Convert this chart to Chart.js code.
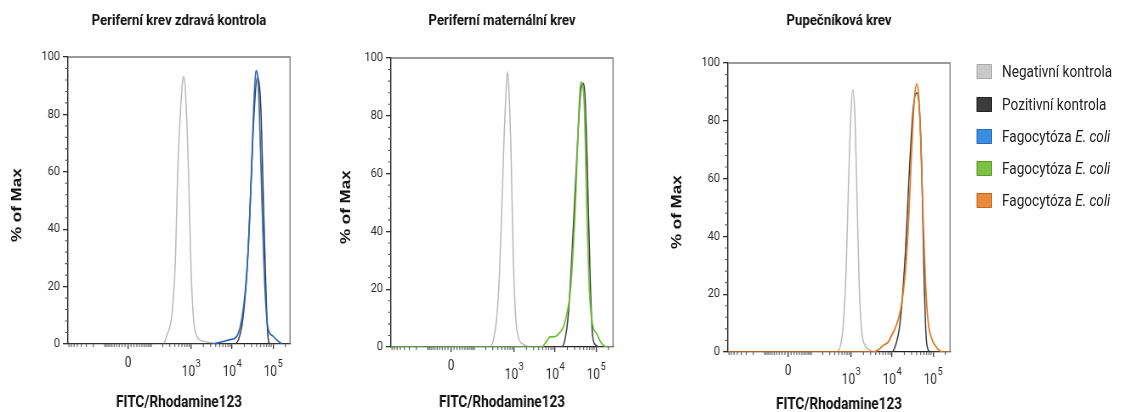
<!DOCTYPE html>
<html>
<head>
<meta charset="utf-8">
<script src="https://cdn.jsdelivr.net/npm/chart.js@4.4.1/dist/chart.umd.min.js"></script>
<style>
  html, body { margin: 0; padding: 0; background: #fff; overflow: hidden; }
  body { width: 1125px; height: 412px; position: relative; }
  .panel { position: absolute; top: 0; width: 376px; height: 420px; transform: scaleX(0.85); transform-origin: 0 0; }
  .legend { position: absolute; left: 975px; top: 0; width: 180px; height: 220px; transform: scaleX(0.85); transform-origin: 0 0;
            font-family: Roboto, sans-serif; font-size: 16px; color: #222; }
  .legend .item { position: absolute; left: 2.4px; height: 15px; display: flex; align-items: center; white-space: nowrap; }
  .legend .sw { width: 17.6px; height: 15px; box-sizing: border-box; border: 1px solid; margin-right: 11.8px; }
</style>
</head>
<body>
<div class="panel" id="p1"><canvas id="c1" width="376" height="420"></canvas></div>
<div class="panel" id="p2" style="left:323px"><canvas id="c2" width="376" height="420"></canvas></div>
<div class="panel" id="p3" style="left:660px"><canvas id="c3" width="376" height="420"></canvas></div>
<div class="legend" id="legend"></div>
<script>
// x = display channel (0-1024) of the biexponential FITC axis, y = % of Max

// Periferní krev zdravá kontrola
const negX1 = [443, 455, 478, 494, 507, 525, 532, 540, 555, 567, 578, 594, 623, 669, 692];
const negY1 = [0, 2.8, 9.6, 27, 62, 88.6, 93.2, 90, 62, 27, 9.6, 2.7, 1, 0.3, 0];
const posX1 = [0, 763, 786, 806, 824, 840, 855, 873, 889, 901, 912, 921, 932, 1024];
const posY1 = [0, 0, 1.5, 8.5, 23.6, 48, 75.8, 92.7, 82.8, 50, 21, 3.8, 0, 0];
const blueX = [670, 701, 747, 770, 786, 801, 817, 832, 847, 858, 867, 878, 890, 904, 917, 924, 946, 969, 986];
const blueY = [0, 0.6, 1.5, 2, 3.8, 8.5, 17.8, 34, 62, 85, 95.3, 89.8, 62, 27, 8.5, 5, 2.7, 1, 0];

// Periferní maternální krev
const negX2 = [460, 472, 488, 500, 511, 521, 531, 537, 544, 554, 564, 575, 587, 610, 641];
const negY2 = [0, 2.3, 10.4, 25, 48, 71.5, 88.8, 95.2, 88.8, 65.7, 31, 10.4, 3.5, 0.9, 0];
const posX2 = [0, 787, 803, 818, 838, 857, 875, 884, 895, 906, 918, 929, 941, 964, 1024];
const posY2 = [0, 0, 2.9, 11.5, 37, 65.7, 88.8, 91.3, 86.5, 60, 25, 4.6, 0.9, 0, 0];
const greenX = [0, 695, 715, 734, 746, 761, 780, 795, 811, 826, 838, 853, 864, 875, 883, 892, 903, 915, 929, 949, 967, 987, 1002, 1024];
const greenY = [0, 0, 1.7, 3.5, 3.5, 3.7, 5.2, 6.9, 11.5, 18.5, 31, 54, 77, 91.7, 91, 83, 48, 19.6, 8, 4.6, 1.7, 0.2, 0, 0];

// Pupečníková krev
const negX3 = [501, 517, 532, 544, 555, 566, 575, 585, 594, 606, 618, 632, 655, 678];
const negY3 = [0, 1.7, 9.8, 27, 56, 81, 90.8, 82, 56, 21, 6.3, 2.3, 0.6, 0];
const posX3 = [0, 755, 770, 793, 817, 836, 855, 871, 883, 894, 904, 913, 924, 935, 1024];
const posY3 = [0, 0, 1.7, 9.8, 33, 62, 85, 89.6, 83.6, 62, 27, 6.3, 0.6, 0, 0];
const orangeX = [0, 670, 693, 716, 740, 755, 770, 786, 801, 817, 832, 847, 859, 871, 880, 889, 901, 913, 924, 940, 955, 970, 990, 1024];
const orangeY = [0, 0, 0.8, 2.3, 3.5, 5.8, 8, 11.5, 16.7, 27, 44, 70, 87, 92.8, 88, 73, 44, 21, 9.8, 4.6, 2.3, 0.8, 0, 0];

// axes
const yTickValues = [0, 20, 40, 60, 80, 100];
const xTickValues = [0, 1e3, 1e4, 1e5];
const xTickBase = ['0', '10', '10', '10'];
const xTickExp = ['', '3', '4', '5'];

// legend
const legendNames = [['Negativní kontrola', ''], ['Pozitivní kontrola', ''], ['Fagocytóza ', 'E. coli'], ['Fagocytóza ', 'E. coli'], ['Fagocytóza ', 'E. coli']];
const legendFill = ['#c9c9c9', '#3b3b3b', '#3a8de0', '#7bc143', '#e8893c'];
const legendEdge = ['#a9a9a9', '#262626', '#2a6db5', '#5c9a2f', '#c2691f'];

// biexponential display transform, intensity -> channel
const biex = v => 276.8 + 189.1 * Math.asinh(v / 58.2) / Math.LN10;

const xMinorValues = [];
[10, 100, 1000, 10000, 100000].forEach(d => {
  for (let m = 1; m <= 9; m++) {
    if (!xTickValues.includes(m * d)) xMinorValues.push(m * d, -m * d);
  }
});
const yMinorValues = [];
for (let v = 4; v < 100; v += 4) if (v % 20) yMinorValues.push(v);

const flowAxes = {
  id: 'flowAxes',
  afterDraw(chart) {
    const { ctx, chartArea: a, scales: { x, y } } = chart;
    ctx.save();
    // top and right frame
    ctx.strokeStyle = '#7a7a7a';
    ctx.lineWidth = 1.3;
    ctx.beginPath();
    ctx.moveTo(a.left, a.top);
    ctx.lineTo(a.right, a.top);
    ctx.lineTo(a.right, a.bottom);
    ctx.stroke();
    // minor ticks
    ctx.strokeStyle = '#555';
    ctx.lineWidth = 1.1;
    ctx.beginPath();
    xMinorValues.forEach(v => {
      const px = x.getPixelForValue(biex(v));
      if (px < a.left || px > a.right) return;
      ctx.moveTo(px, a.bottom);
      ctx.lineTo(px, a.bottom + 3);
    });
    yMinorValues.forEach(v => {
      const py = y.getPixelForValue(v);
      ctx.moveTo(a.left - 3.5, py);
      ctx.lineTo(a.left, py);
    });
    ctx.stroke();
    // x tick labels, 10 with superscript decade
    ctx.fillStyle = '#2a2a2a';
    ctx.textBaseline = 'middle';
    xTickValues.forEach((v, i) => {
      const px = x.getPixelForValue(biex(v));
      ctx.font = '14px Roboto';
      if (!xTickExp[i]) {
        ctx.textAlign = 'center';
        ctx.fillText(xTickBase[i], px, a.bottom + 19);
        return;
      }
      const w1 = ctx.measureText(xTickBase[i]).width;
      ctx.font = '11px Roboto';
      const w2 = ctx.measureText(xTickExp[i]).width;
      const start = px - (w1 + w2) / 2;
      ctx.textAlign = 'left';
      ctx.fillText(xTickExp[i], start + w1 + 0.5, a.bottom + 20);
      ctx.font = '14px Roboto';
      ctx.fillText(xTickBase[i], start, a.bottom + 28);
    });
    ctx.restore();
  }
};

function makePanel(canvasId, cfg) {
  const datasets = cfg.series.map(s => ({
    data: s.xs.map((v, i) => ({ x: v, y: s.ys[i] })),
    borderColor: s.color,
    borderWidth: s.width,
    pointRadius: 0,
    cubicInterpolationMode: 'monotone',
    fill: false
  }));
  new Chart(document.getElementById(canvasId), {
    type: 'line',
    data: { datasets },
    plugins: [flowAxes],
    options: {
      responsive: false,
      animation: false,
      devicePixelRatio: 1,
      layout: { padding: { left: 0, right: 34.8, top: 0, bottom: 0 } },
      plugins: {
        legend: { display: false },
        tooltip: { enabled: false },
        title: {
          display: true,
          text: cfg.title,
          fullSize: false,
          color: '#111',
          font: { family: 'Roboto', weight: 'bold', size: 15.5 },
          padding: { top: 11.7, bottom: cfg.top - 30.3 }
        }
      },
      scales: {
        x: {
          type: 'linear',
          min: 0,
          max: 1024,
          afterBuildTicks: s => { s.ticks = xTickValues.map(v => ({ value: biex(v) })); },
          afterFit: s => { s.height = 420 - cfg.bottom; },
          ticks: { display: false },
          grid: { drawOnChartArea: false, drawTicks: true, tickLength: 5, color: '#333', lineWidth: 1.3 },
          border: { display: true, color: '#222', width: 1.3 },
          title: {
            display: true,
            text: 'FITC/Rhodamine123',
            color: '#111',
            font: { family: 'Roboto', weight: 'bold', size: 16 },
            padding: { top: 0, bottom: 410.4 - cfg.xTitleY }
          }
        },
        y: {
          min: 0,
          max: 100,
          afterBuildTicks: s => { s.ticks = yTickValues.map(v => ({ value: v })); },
          afterFit: s => { s.width = 80; },
          ticks: { color: '#2a2a2a', padding: 3.4, font: { family: 'Roboto', size: 13 } },
          grid: { drawOnChartArea: false, drawTicks: true, tickLength: 6, color: '#333', lineWidth: 1.3 },
          border: { display: true, color: '#222', width: 1.4 },
          title: {
            display: true,
            text: '% of Max  ',
            color: '#111',
            font: { family: 'Liberation Sans', weight: 'bold', size: 17 },
            padding: { top: cfg.yTitlePad, bottom: 0 }
          }
        }
      }
    }
  });
}

makePanel('c1', {
  title: 'Periferní krev zdravá kontrola', top: 57, bottom: 344, xTitleY: 403, yTitlePad: 10.4,
  series: [
    { xs: blueX, ys: blueY, color: '#2a66c0', width: 1.7 },
    { xs: posX1, ys: posY1, color: '#3a3a3a', width: 1.5 },
    { xs: negX1, ys: negY1, color: '#b9b9b9', width: 1.5 }
  ]
});
makePanel('c2', {
  title: 'Periferní maternální krev', top: 58, bottom: 347, xTitleY: 403, yTitlePad: 16.9,
  series: [
    { xs: greenX, ys: greenY, color: '#6cbf2e', width: 1.7 },
    { xs: posX2, ys: posY2, color: '#3a3a3a', width: 1.5 },
    { xs: negX2, ys: negY2, color: '#b9b9b9', width: 1.5 }
  ]
});
makePanel('c3', {
  title: 'Pupečníková krev', top: 63, bottom: 352, xTitleY: 405, yTitlePad: 9.8,
  series: [
    { xs: orangeX, ys: orangeY, color: '#e2761f', width: 1.7 },
    { xs: posX3, ys: posY3, color: '#3a3a3a', width: 1.5 },
    { xs: negX3, ys: negY3, color: '#b9b9b9', width: 1.5 }
  ]
});

// legend
const legendTops = [63.5, 96.5, 128.5, 160.5, 192.5];
const legendEl = document.getElementById('legend');
legendNames.forEach((name, i) => {
  const item = document.createElement('div');
  item.className = 'item';
  item.style.top = legendTops[i] + 'px';
  const sw = document.createElement('span');
  sw.className = 'sw';
  sw.style.background = legendFill[i];
  sw.style.borderColor = legendEdge[i];
  item.appendChild(sw);
  const label = document.createElement('span');
  label.textContent = name[0];
  if (name[1]) {
    const it = document.createElement('i');
    it.textContent = name[1];
    label.appendChild(it);
  }
  item.appendChild(label);
  legendEl.appendChild(item);
});
</script>
</body>
</html>
